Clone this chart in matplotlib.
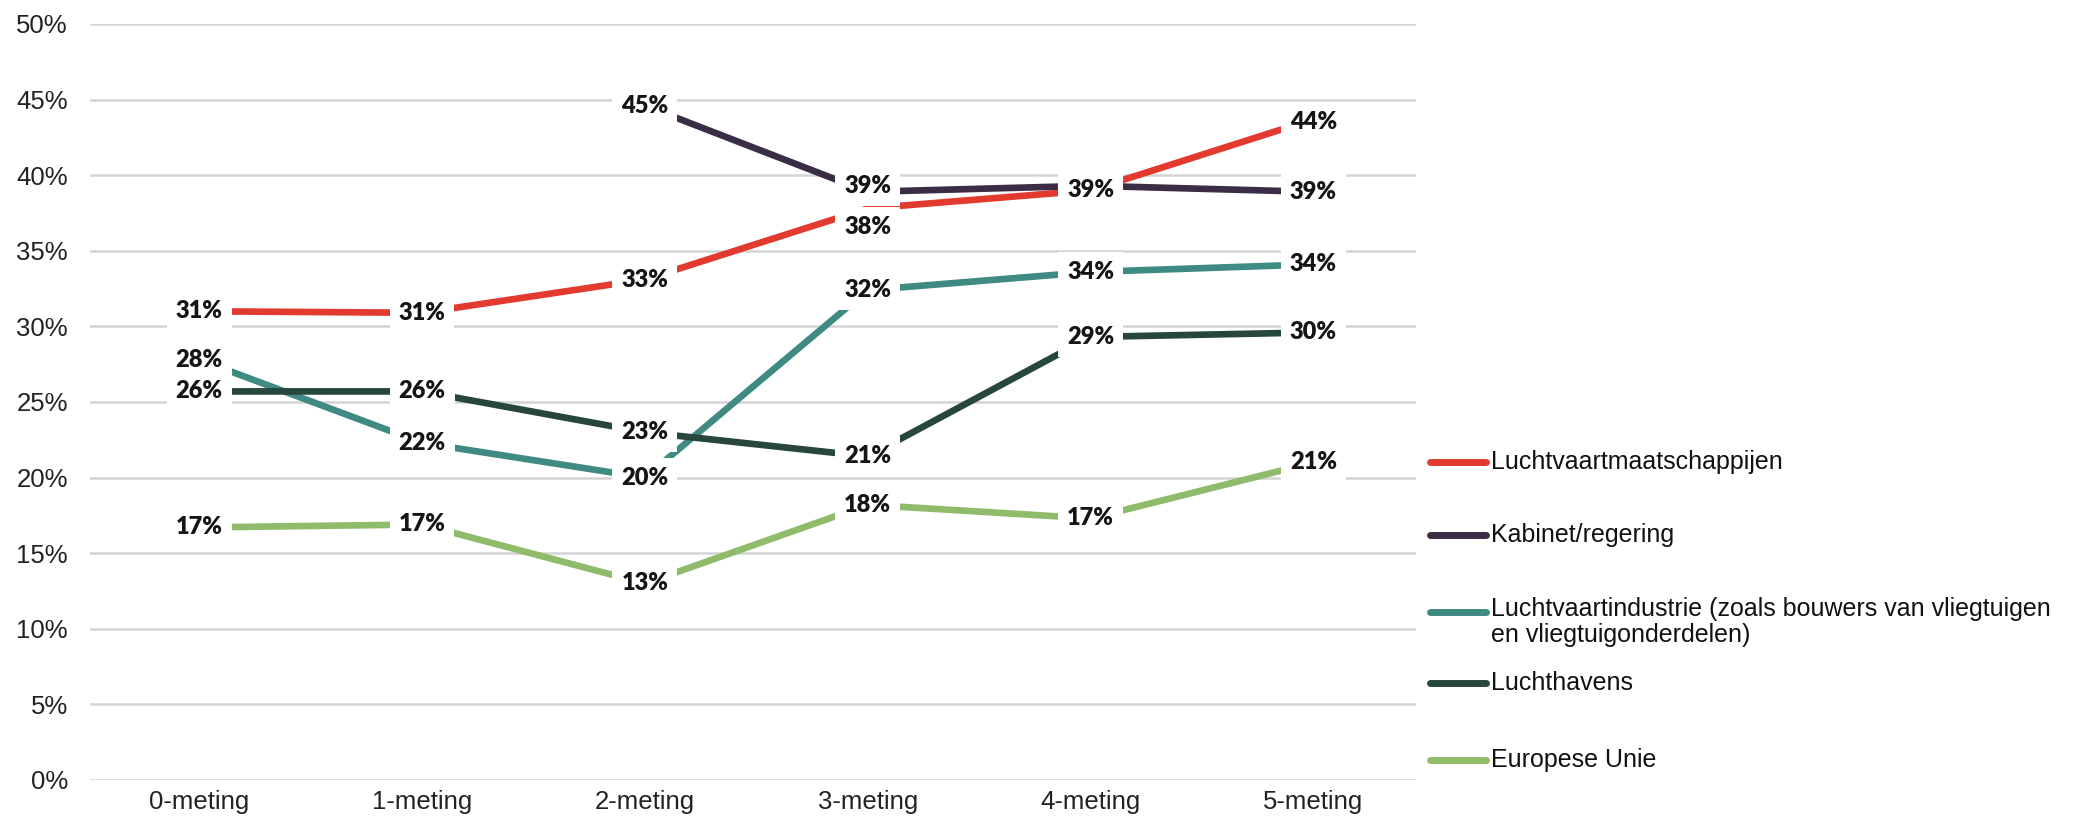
import numpy as np
import matplotlib
import matplotlib.pyplot as plt
from matplotlib.lines import Line2D

matplotlib.use('Agg')

# data (percent)
categories = ['0-meting', '1-meting', '2-meting', '3-meting', '4-meting', '5-meting']
series_names = ['Luchtvaartmaatschappijen',
                'Kabinet/regering',
                'Luchtvaartindustrie (zoals bouwers van vliegtuigen\nen vliegtuigonderdelen)',
                'Luchthavens',
                'Europese Unie']
luchtvaartmij = [31.0, 30.9, 33.1, 37.8, 39.0, 43.7]
kabinet = [np.nan, np.nan, 44.6, 38.9, 39.3, 38.9]
luchtvaartind = [27.8, 22.3, 20.0, 32.4, 33.6, 34.1]
luchthavens = [25.7, 25.7, 23.0, 21.4, 29.3, 29.6]
europese_unie = [16.7, 16.9, 13.0, 18.2, 17.3, 21.0]

all_series = [luchtvaartmij, kabinet, luchtvaartind, luchthavens, europese_unie]
colors = ['#e23a2e', '#3a2d45', '#3f8a82', '#26463e', '#8fbb6b']

# small nudges for labels that would collide (series index, point index) -> dy
label_nudge = {(0, 3): -1.2, (1, 3): 0.4, (0, 5): -0.2}
# red and kabinet share one "39%" label at the 4-meting
label_skip = {(1, 4)}

fig = plt.figure(figsize=(20.93, 8.24), dpi=100)
ax = fig.add_axes([0.043, 0.0534, 0.6335, 0.9175])

x = np.arange(len(categories))
for i, (vals, col) in enumerate(zip(all_series, colors)):
    ax.plot(x, vals, color=col, lw=4.8, solid_capstyle='butt', zorder=3)
    for j, v in enumerate(vals):
        if np.isnan(v) or (i, j) in label_skip:
            continue
        ax.text(x[j], v + label_nudge.get((i, j), 0), '%d%%' % round(v),
                ha='center', va='center', fontsize=17, fontweight='heavy',
                family=['Lato', 'DejaVu Sans'], color='#151515', zorder=5,
                bbox=dict(boxstyle='square,pad=0.38', fc='white', ec='none'))

ax.set_xlim(-0.49, 5.46)
ax.set_ylim(0, 50)
ax.set_yticks(np.arange(0, 51, 5))
ax.set_yticklabels(['%d%%' % t for t in np.arange(0, 51, 5)])
ax.set_xticks(x)
ax.set_xticklabels(categories)
for lab in ax.get_xticklabels() + ax.get_yticklabels():
    lab.set_family('Liberation Sans')
ax.tick_params(axis='both', length=0, labelsize=18.5, colors='#222222')
ax.tick_params(axis='y', pad=16)
ax.tick_params(axis='x', pad=7)
ax.grid(axis='y', color='#d4d4d4', lw=1.8, zorder=0)
ax.set_axisbelow(True)
for s in ax.spines.values():
    s.set_visible(False)

# legend drawn by hand to the right of the plot
row_y = [462, 535, 612, 683, 760]
for name, col, yp in zip(series_names, colors, row_y):
    yf = 1 - yp / 824
    fig.lines.append(Line2D([0.683, 0.710], [yf, yf], color=col, lw=5,
                            solid_capstyle='round', transform=fig.transFigure))
    if '\n' in name:
        fig.text(0.7125, yf + 15 / 824, name, ha='left', va='top', fontsize=18,
                 family='Liberation Sans', color='#111111', linespacing=1.1)
    else:
        fig.text(0.7125, yf, name, ha='left', va='center', fontsize=18,
                 family='Liberation Sans', color='#111111')

plt.savefig('out.png', dpi=100)
